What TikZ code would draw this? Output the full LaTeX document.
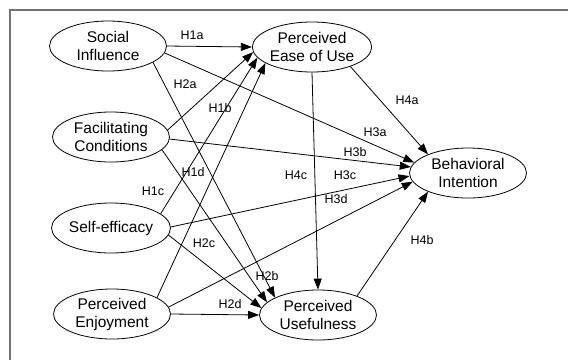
\documentclass[tikz,border=0pt]{standalone}
\usepackage{fontspec}
\setmainfont{Liberation Sans}
\usetikzlibrary{shapes.geometric, arrows.meta}
\tikzset{>={Triangle[length=11pt,width=8pt]},
         construct/.style={ellipse, draw, line width=0.8pt, minimum width=117pt,
                           minimum height=50pt, inner sep=0pt, align=center,
                           font=\fontsize{15.5}{18}\selectfont},
         hyp/.style={font=\fontsize{12.5}{14}\selectfont, inner sep=1pt},
         }

\begin{document}
\begin{tikzpicture}[x=1pt, y=-1pt]
    \useasboundingbox (0,0) rectangle (568,360);
    \draw[black!55, line width=1.2pt] (568,10) -- (10,10) -- (10,360);

    \node[construct] (si) at (108,46) {Social\\Influence};
    \node[construct] (fc) at (111,137) {Facilitating\\Conditions};
    \node[construct] (se) at (111,228) {Self-efficacy};
    \node[construct] (pe) at (112,314) {Perceived\\Enjoyment};
    \node[construct] (peou) at (312,47) {Perceived\\Ease of Use};
    \node[construct] (bi) at (468,173) {Behavioral\\Intention};
    \node[construct] (pu) at (318,315) {Perceived\\Usefulness};

    \path[->, line width=0.8pt]
            (si.0) edge (peou.180)
            (si.-7) edge (bi.169)
            (si.-20) edge (pu.158)
            (fc.7) edge (peou.185)
            (fc.-2) edge (bi.174)
            (fc.-14) edge (pu.166)
            (se.16) edge (peou.191)
            (se.1) edge (bi.183)
            (se.-7) edge (pu.173)
            (pe.20) edge (peou.199)
            (pe.7) edge (bi.189)
            (pe.0) edge (pu.180)
            (peou.-27) edge (bi.155)
            (peou.south) edge (pu.north)
            (pu.26) edge (bi.205);

    \node[hyp] (h1a) at (192,35) {H1a};
    \node[hyp] (h2a) at (185,84) {H2a};
    \node[hyp] (h1b) at (220,108) {H1b};
    \node[hyp] (h1d) at (193,172) {H1d};
    \node[hyp] (h1c) at (153,191) {H1c};
    \node[hyp] (h2c) at (204,243) {H2c};
    \node[hyp] (h2b) at (267,276) {H2b};
    \node[hyp] (h2d) at (230,304) {H2d};
    \node[hyp] (h4a) at (407,100) {H4a};
    \node[hyp] (h3a) at (375,132) {H3a};
    \node[hyp] (h3b) at (355,152) {H3b};
    \node[hyp] (h4c) at (296,175) {H4c};
    \node[hyp] (h3c) at (345,175) {H3c};
    \node[hyp] (h3d) at (336,199) {H3d};
    \node[hyp] (h4b) at (422,240) {H4b};
\end{tikzpicture}
\end{document}
